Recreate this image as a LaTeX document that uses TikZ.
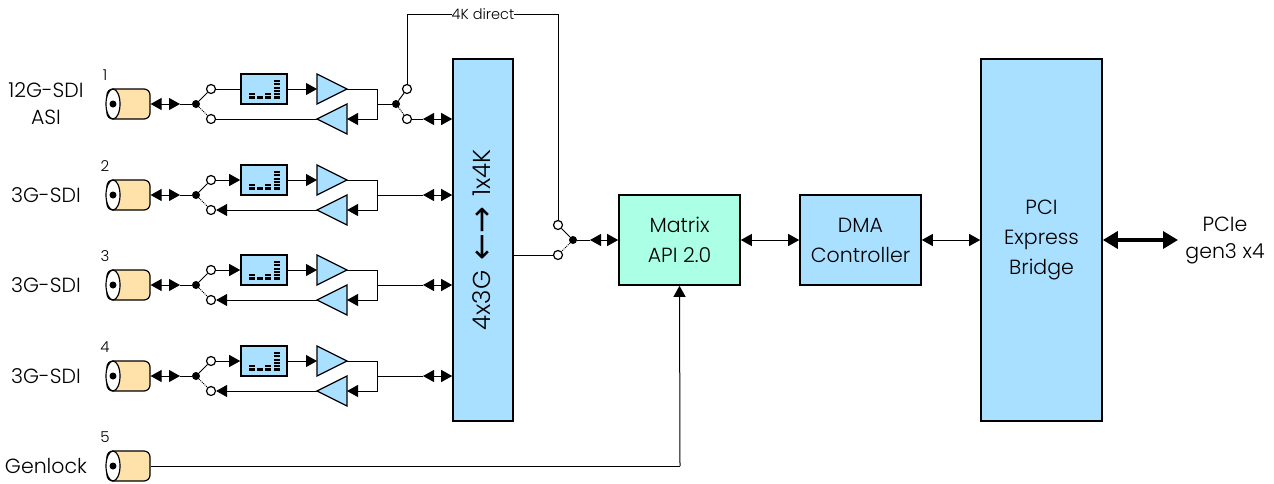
\documentclass[tikz,border=0pt]{standalone}
\usepackage{fontspec}
\setmainfont{Poppins Light}
\usetikzlibrary{positioning,calc,arrows.meta,shapes.geometric}

\begin{document}
\begin{tikzpicture}[x=1pt,y=-1pt]
    \definecolor{blockblue}{RGB}{170,224,255}
    \definecolor{apigreen}{RGB}{170,255,228}
    \definecolor{jackbuff}{RGB}{255,226,170}
    \tikzstyle{block}=[draw, line width=1.6pt, fill=blockblue, inner sep=0pt, align=center,
        font=\fontsize{20.5}{30}\selectfont]
    \tikzstyle{meter}=[draw, line width=1.6pt, fill=blockblue, inner sep=0pt, minimum width=46pt, minimum height=30pt]
    \tikzstyle{amp}=[draw, line width=1.3pt, fill=blockblue, isosceles triangle, isosceles triangle stretches,
        inner sep=0pt, outer sep=0pt, minimum width=30pt, minimum height=30pt]
    \tikzstyle{barcell}=[fill=black, inner sep=0pt, minimum width=6pt, minimum height=2.2pt]
    \tikzstyle{jack}=[draw, line width=1.2pt, fill=jackbuff, rounded corners=6pt, inner sep=0pt, minimum width=43pt, minimum height=30pt]
    \tikzstyle{jackface}=[draw, line width=1.2pt, fill=white, ellipse, inner sep=0pt, minimum width=14pt, minimum height=30pt]
    \tikzstyle{pin}=[circle, fill=black, inner sep=0pt, minimum width=5pt, minimum height=7pt]
    \tikzstyle{hub}=[circle, fill=black, inner sep=0pt, minimum width=8pt]
    \tikzstyle{contact}=[circle, draw, line width=1.2pt, fill=white, inner sep=0pt, minimum width=9pt]
    \tikzstyle{lab}=[font=\fontsize{20.5}{27}\selectfont, align=center]
    \tikzstyle{num}=[font=\fontsize{15}{17}\selectfont]
    \tikzstyle{wire}=[line width=1pt]
    \tikzstyle{arr}=[line width=1pt, -{Triangle[length=11pt,width=12pt]}]
    \tikzstyle{biarr}=[line width=1pt, {Triangle[length=11pt,width=12pt]}-{Triangle[length=11pt,width=12pt]}]

    % main blocks
    \node[block, minimum width=60pt, minimum height=362pt] (mux) at (483,240) {};
    \node[rotate=90, font=\fontsize{24.5}{27}\selectfont] (muxtext) at (483,240) {4x3G\hspace{10pt}{\fontspec{DejaVu Sans}\fontsize{32}{27}\selectfont\raisebox{-2pt}{←→}}\hspace{10pt}1x4K};
    \node[block, fill=apigreen, minimum width=121pt, minimum height=90pt] (api) at (679.5,240) {Matrix\\API 2.0};
    \node[block, minimum width=121pt, minimum height=90pt] (dma) at (860.5,240) {DMA\\Controller};
    \node[block, minimum width=121pt, minimum height=362pt] (pci) at (1041.5,240) {PCI\\Express\\Bridge};
    \node[lab] (pcielab) at (1225,240) {PCIe\\gen3 x4};
    \coordinate (pcitip) at (1178,240);

    % the four channels
    \foreach \i/\y/\txt in {1/104/{12G-SDI\\ASI},2/195/3G-SDI,3/285/3G-SDI,4/376/3G-SDI} {
        \node[lab] (name\i) at (46,\y) {\txt};
        \node[num] (num\i) at (105,\y-29) {\i};
        \node[jack] (conn\i) at (128.5,\y) {};
        \node[jackface] (face\i) at (113,\y) {};
        \node[pin] (pin\i) at (113,\y) {};
        \node[hub] (hub\i) at (196,\y) {};
        \node[contact] (up\i) at (211,\y-15) {};
        \node[contact] (down\i) at (211,\y+15) {};
        \node[meter] (meter\i) at (264,\y-15) {};
        \foreach \x/\n in {252/2,260/1,268/2,277/6} {
            \foreach \r in {1,...,\n} {
                \node[barcell] (bar\i\x\r) at (\x,\y-6.5-3.3*\r+3.3) {};
            }
        }
        \node[amp] (fwd\i) at (347,\y-15) [anchor=apex] {};
        \node[amp, shape border rotate=180] (rev\i) at (317,\y+15) [anchor=apex] {};
        \coordinate (join\i) at (377,\y);
        \coordinate (tipa\i) at (180,\y);
        \coordinate (tipb\i) at (423,\y);
        \path[wire] (hub\i) edge (up\i);
        \path[wire, densely dotted] (hub\i) edge (down\i);
        \draw[biarr] (conn\i.east) -- (tipa\i);
        \draw[wire] (tipa\i) -- (hub\i);
        \draw[arr] (meter\i.east) -- (fwd\i.west);
        \draw[wire] (fwd\i.apex) -| (join\i);
        \draw[arr] (join\i) |- (rev\i.east);
    }

    % channel 1 has plain wires and the 4K switch
    \draw[wire] (up1) -- (meter1.west);
    \draw[wire] (rev1.apex) -- (down1);
    \node[hub] (hubk) at (396,104) {};
    \node[contact] (upk) at (407,89) {};
    \node[contact] (downk) at (407,119) {};
    \coordinate (tipk) at (423,119);
    \draw[wire] (join1) -- (hubk);
    \path[wire] (hubk) edge (upk);
    \path[wire, densely dotted] (hubk) edge (downk);
    \draw[wire] (downk) -- (tipk);
    \draw[biarr] (tipk) -- (mux.west |- tipk);

    % channels 2 to 4 go straight to the mux
    \foreach \i in {2,3,4} {
        \draw[arr] (up\i) -- (meter\i.west);
        \draw[arr] (rev\i.apex) -- (down\i);
        \draw[wire] (join\i) -- (tipb\i);
        \draw[biarr] (tipb\i) -- (mux.west |- tipb\i);
    }

    % 4K switch at the output
    \node[hub] (hubm) at (573,240) {};
    \node[contact] (upm) at (558,225) {};
    \node[contact] (downm) at (558,255) {};
    \coordinate (tipm) at (590,240);
    \node[font=\fontsize{14.5}{17}\selectfont, inner sep=0pt] (direct) at (483,14) {4K direct};
    \draw[wire] (upk) |- (direct);
    \draw[wire] (direct) -| (upm);
    \path[wire] (hubm) edge (upm);
    \path[wire, densely dotted] (hubm) edge (downm);
    \draw[wire] (mux.east |- downm) -- (downm);
    \draw[wire] (hubm) -- (tipm);
    \draw[biarr] (tipm) -- (api.west);

    % genlock
    \node[lab] (name5) at (46,466) {Genlock};
    \node[num] (num5) at (105,437) {5};
    \node[jack] (conn5) at (128.5,466) {};
    \node[jackface] (face5) at (113,466) {};
    \node[pin] (pin5) at (113,466) {};
    \coordinate (bend5) at (680,466);
    \draw[wire] (conn5) -- (bend5);
    \draw[arr] (bend5) -- (api.south);

    \path
    (api) edge [biarr] (dma)
    (dma) edge [biarr] (pci);
    \draw[line width=3.5pt, {Triangle[length=15pt,width=17pt]}-{Triangle[length=15pt,width=17pt]}] (pci) -- (pcitip);

    \useasboundingbox (0,0) rectangle (1274,483);
\end{tikzpicture}
\end{document}
